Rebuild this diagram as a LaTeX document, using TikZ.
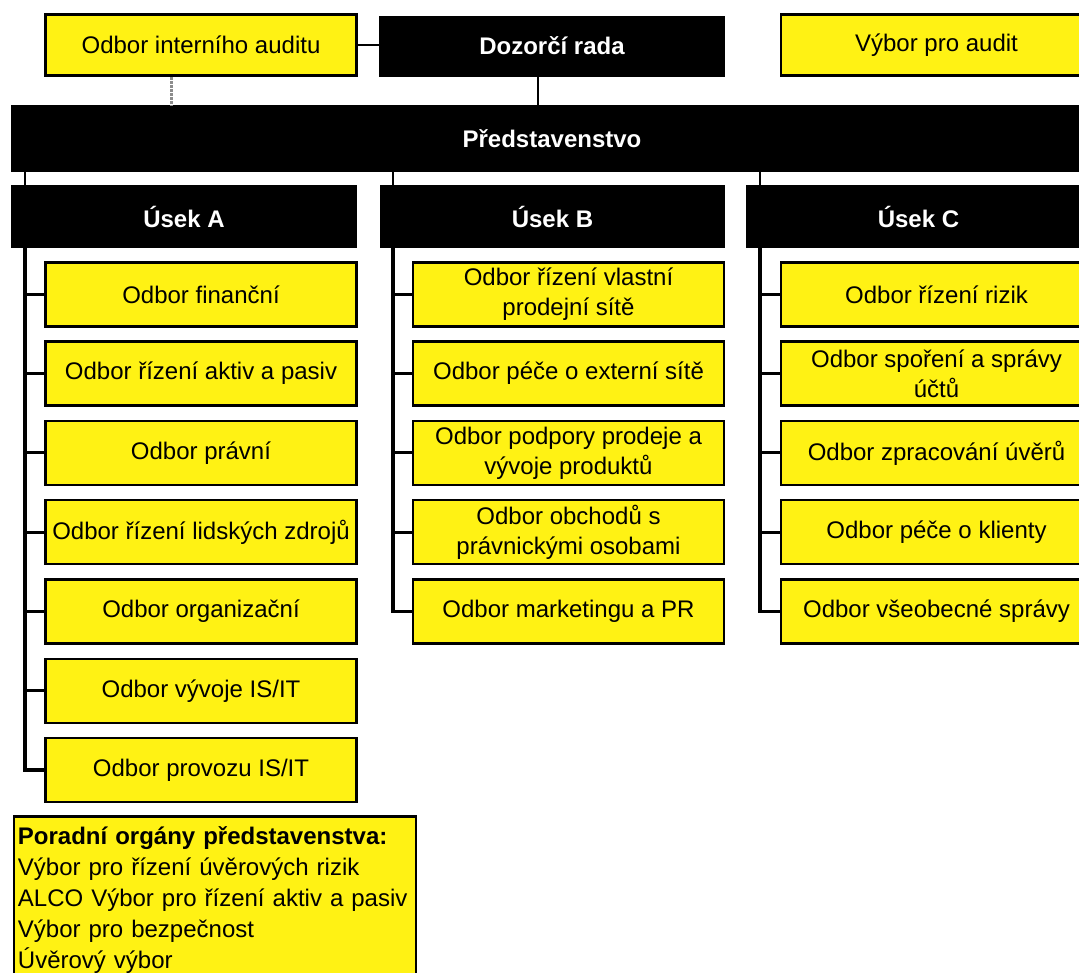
\documentclass[tikz,border=0pt]{standalone}
\usepackage{fontspec}
\setmainfont{Liberation Sans}
\usetikzlibrary{positioning,calc}
\definecolor{odboryellow}{RGB}{255,242,20}
\tikzset{
	odbor/.style={rectangle,draw=black,line width=2.5pt,fill=odboryellow,minimum width=311pt,minimum height=64pt,inner sep=2pt,align=center,font=\fontsize{24}{30}\selectfont},
	vedeni/.style={rectangle,fill=black,text=white,minimum height=62pt,inner sep=2pt,align=center,font=\fontsize{24}{30}\selectfont\bfseries},
	edge/.style={color=black,line width=2pt},
	branch/.style={color=black,line width=3pt},
	spine/.style={color=black,line width=3.5pt},
	grayedge/.style={color=black!45,line width=3pt,densely dotted}
}

\begin{document}
\begin{tikzpicture}[x=1pt,y=-1pt]
	\useasboundingbox (0,0) rectangle (1079,972);

	%%top row
	\node[odbor,minimum height=61pt] (audit) at (201,45) {Odbor interního auditu};
	\node[vedeni,minimum width=346pt,minimum height=61pt] (dozorci) at (552,46) {Dozorčí rada};
	\node[odbor,minimum height=61pt] (vybor) at (936.5,45) {Výbor pro audit};

	%%board
	\node[vedeni,minimum width=1082pt,minimum height=67pt] (predst) at (552,138.5) {Představenstvo};

	%%divisions
	\node[vedeni,minimum width=346pt,minimum height=63pt] (usekA) at (184,216.5) {Úsek A};
	\node[vedeni,minimum width=345pt,minimum height=63pt] (usekB) at (552.5,216.5) {Úsek B};
	\node[vedeni,minimum width=345pt,minimum height=63pt] (usekC) at (918.5,216.5) {Úsek C};

	%%departments of Usek A
	\node[odbor] (a1) at (201,294.3) {Odbor finanční};
	\node[odbor] (a2) at (201,373.6) {Odbor řízení aktiv a pasiv};
	\node[odbor] (a3) at (201,452.9) {Odbor právní};
	\node[odbor] (a4) at (201,532.2) {Odbor řízení lidských zdrojů};
	\node[odbor] (a5) at (201,611.5) {Odbor organizační};
	\node[odbor] (a6) at (201,690.8) {Odbor vývoje IS/IT};
	\node[odbor] (a7) at (201,770.1) {Odbor provozu IS/IT};

	%%departments of Usek B
	\node[odbor] (b1) at (568.5,294.3) {Odbor řízení vlastní\\prodejní sítě};
	\node[odbor] (b2) at (568.5,373.6) {Odbor péče o externí sítě};
	\node[odbor] (b3) at (568.5,452.9) {Odbor podpory prodeje a\\vývoje produktů};
	\node[odbor] (b4) at (568.5,532.2) {Odbor obchodů s\\právnickými osobami};
	\node[odbor] (b5) at (568.5,611.5) {Odbor marketingu a PR};

	%%departments of Usek C
	\node[odbor] (c1) at (936.5,294.3) {Odbor řízení rizik};
	\node[odbor] (c2) at (936.5,373.6) {Odbor spoření a správy\\účtů};
	\node[odbor] (c3) at (936.5,452.9) {Odbor zpracování úvěrů};
	\node[odbor] (c4) at (936.5,532.2) {Odbor péče o klienty};
	\node[odbor] (c5) at (936.5,611.5) {Odbor všeobecné správy};

	%%advisory bodies
	\node[odbor,anchor=north west,minimum width=402pt,minimum height=180pt,text width=394pt,align=left,inner xsep=3pt,inner ysep=0pt,text height=6pt,font=\fontsize{24}{31}\selectfont] (porad) at (12.7,815)
	{\textbf{Poradní orgány představenstva:}\\Výbor pro řízení úvěrových rizik\\ALCO Výbor pro řízení aktiv a pasiv\\Výbor pro bezpečnost\\Úvěrový výbor};

	%%%%%% EDGES

	%%top row to board
	\draw[edge] (audit.east) -- (audit.east -| dozorci.west);
	\draw[edge] ([xshift=-14pt]dozorci.south) -- ([xshift=-14pt]dozorci.south |- predst.north);
	\draw[grayedge] ([xshift=-30pt]audit.south) -- ([xshift=-30pt]audit.south |- predst.north);

	%%board to divisions
	\draw[edge] ([xshift=14pt]usekA.north west) -- ([xshift=14pt]usekA.north west |- predst.south);
	\draw[edge] ([xshift=13pt]usekB.north west) -- ([xshift=13pt]usekB.north west |- predst.south);
	\draw[edge] ([xshift=14pt]usekC.north west) -- ([xshift=14pt]usekC.north west |- predst.south);

	%%Usek A spine
	\coordinate (spA) at ([xshift=14pt]usekA.south west);
	\draw[spine] (spA) |- (a7.west);
	\draw[branch] (a1.west) -- (a1.west -| spA);
	\draw[branch] (a2.west) -- (a2.west -| spA);
	\draw[branch] (a3.west) -- (a3.west -| spA);
	\draw[branch] (a4.west) -- (a4.west -| spA);
	\draw[branch] (a5.west) -- (a5.west -| spA);
	\draw[branch] (a6.west) -- (a6.west -| spA);

	%%Usek B spine
	\coordinate (spB) at ([xshift=13pt]usekB.south west);
	\draw[spine] (spB) |- (b5.west);
	\draw[branch] (b1.west) -- (b1.west -| spB);
	\draw[branch] (b2.west) -- (b2.west -| spB);
	\draw[branch] (b3.west) -- (b3.west -| spB);
	\draw[branch] (b4.west) -- (b4.west -| spB);

	%%Usek C spine
	\coordinate (spC) at ([xshift=14pt]usekC.south west);
	\draw[spine] (spC) |- (c5.west);
	\draw[branch] (c1.west) -- (c1.west -| spC);
	\draw[branch] (c2.west) -- (c2.west -| spC);
	\draw[branch] (c3.west) -- (c3.west -| spC);
	\draw[branch] (c4.west) -- (c4.west -| spC);

\end{tikzpicture}
\end{document}
